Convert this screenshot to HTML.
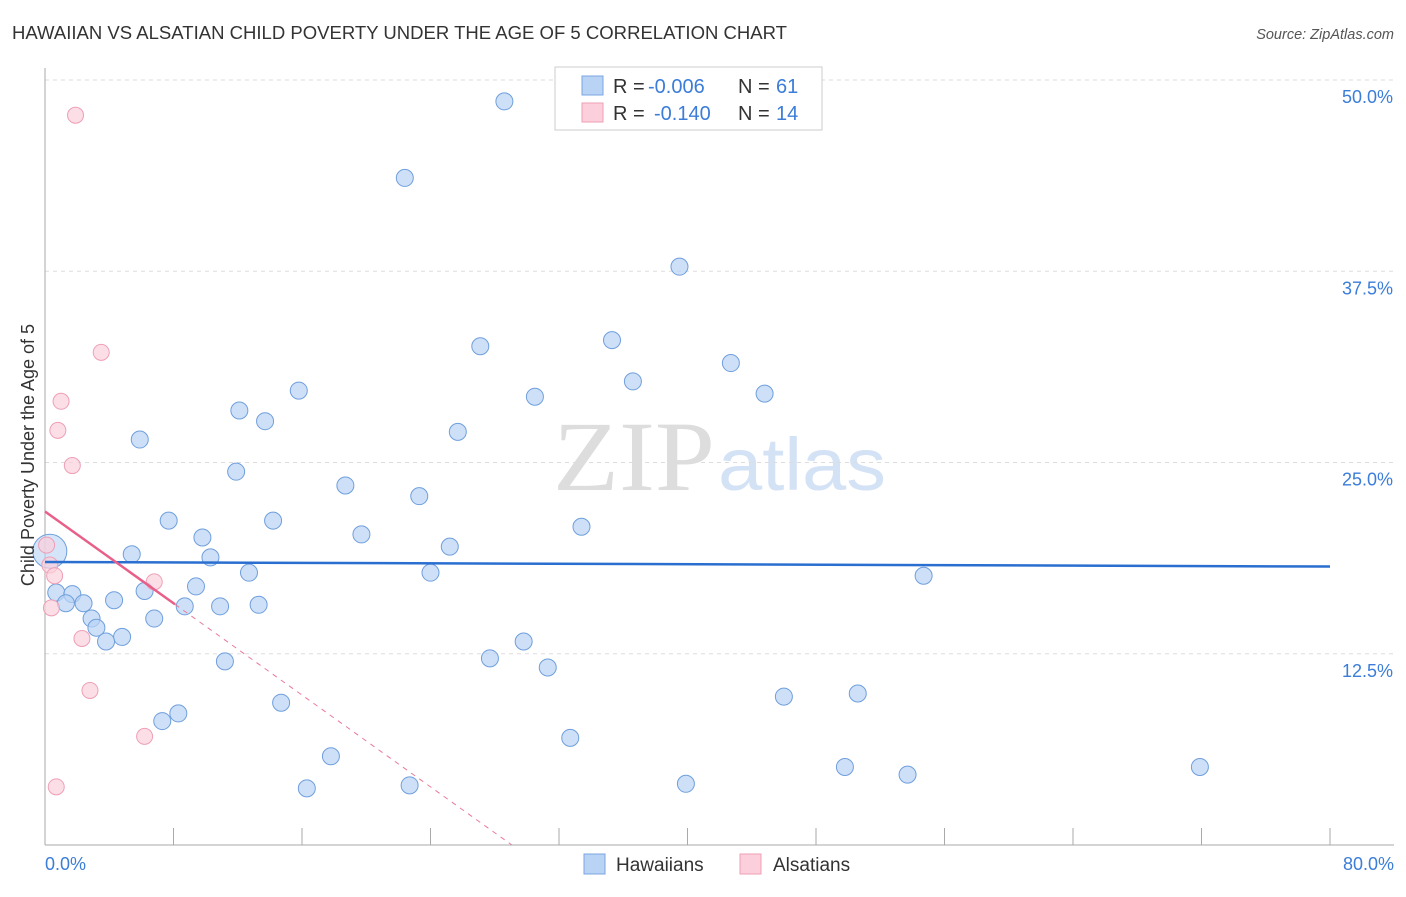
<!DOCTYPE html>
<html><head><meta charset="utf-8"><style>
body{margin:0;background:#fff;font-family:"Liberation Sans",sans-serif}
</style></head><body>
<svg width="1406" height="892" xmlns="http://www.w3.org/2000/svg" id="chart" font-family="Liberation Sans, sans-serif">
<text x="12" y="39" font-size="18" fill="#333" textLength="775" lengthAdjust="spacingAndGlyphs">HAWAIIAN VS ALSATIAN CHILD POVERTY UNDER THE AGE OF 5 CORRELATION CHART</text>
<text x="1394" y="39" font-size="14.5" fill="#555" text-anchor="end" font-style="italic">Source: ZipAtlas.com</text>
<text x="553" y="490" font-size="100" fill="#ddd" textLength="162" lengthAdjust="spacingAndGlyphs" font-family="Liberation Serif, serif">ZIP</text>
<text x="718" y="490" font-size="74" fill="#d4e2f5" textLength="168" lengthAdjust="spacingAndGlyphs">atlas</text>
<g id="grid"></g><g id="axes"></g><g id="marks"></g>
<text transform="translate(34,455) rotate(-90)" font-size="18" fill="#333" text-anchor="middle">Child Poverty Under the Age of 5</text>
<text x="45" y="870" font-size="18" fill="#3b7dd8">0.0%</text>
<text x="1394" y="870" font-size="18" fill="#3b7dd8" text-anchor="end">80.0%</text>
<g>
<rect x="555" y="67" width="267" height="63" fill="#fff" stroke="#ccc"/>
<rect x="582" y="76" width="21" height="19" fill="#b9d3f5" stroke="#7aa6e0"/>
<rect x="582" y="103" width="21" height="19" fill="#fbd0dc" stroke="#ee9fb6"/>
<text y="93" font-size="20" fill="#333"><tspan x="613">R =</tspan><tspan x="648" fill="#3b7dd8">-0.006</tspan><tspan x="738">N =</tspan><tspan x="776" fill="#3b7dd8">61</tspan></text>
<text y="120" font-size="20" fill="#333"><tspan x="613">R =</tspan><tspan x="654" fill="#3b7dd8">-0.140</tspan><tspan x="738">N =</tspan><tspan x="776" fill="#3b7dd8">14</tspan></text>
</g>
<g>
<rect x="584" y="854" width="21" height="20" fill="#b9d3f5" stroke="#7aa6e0"/>
<text x="616" y="871" font-size="19" fill="#333">Hawaiians</text>
<rect x="740" y="854" width="21" height="20" fill="#fbd0dc" stroke="#ee9fb6"/>
<text x="773" y="871" font-size="19" fill="#333">Alsatians</text>
</g>
</svg>
<script>
const yTicks=[12.5,25,37.5,50];
const yTickLabels=["12.5%","25.0%","37.5%","50.0%"];
const xTicks=[8,16,24,32,40,48,56,64,72,80];
const hawX=[28.6,22.4,39.5,27.1,35.3,42.7,36.6,44.8,15.8,30.5,12.1,13.7,25.7,5.9,11.9,18.7,23.3,7.7,14.2,33.4,19.7,9.8,25.2,5.4,10.3,12.7,24.0,54.7,9.4,6.2,0.7,1.7,4.3,1.3,2.4,8.7,10.9,13.3,2.9,6.8,3.2,4.8,3.8,29.8,27.7,11.2,31.3,14.7,46.0,50.6,8.3,7.3,32.7,17.8,49.8,71.9,53.7,16.3,22.7,39.9];
const hawY=[48.6,43.6,37.8,32.6,33.0,31.5,30.3,29.5,29.7,29.3,28.4,27.7,27.0,26.5,24.4,23.5,22.8,21.2,21.2,20.8,20.3,20.1,19.5,19.0,18.8,17.8,17.8,17.6,16.9,16.6,16.5,16.4,16.0,15.8,15.8,15.6,15.6,15.7,14.8,14.8,14.2,13.6,13.3,13.3,12.2,12.0,11.6,9.3,9.7,9.9,8.6,8.1,7.0,5.8,5.1,5.1,4.6,3.7,3.9,4.0];
const alsX=[1.9,3.5,1.0,0.8,1.7,0.1,0.3,0.6,6.8,0.4,2.3,2.8,6.2,0.7];
const alsY=[47.7,32.2,29.0,27.1,24.8,19.6,18.3,17.6,17.2,15.5,13.5,10.1,7.1,3.8];
const hawTrend=[18.5,18.2];
const alsTrend=[21.8,-0.75];
const X=v=>45+v*(1285/80), Y=v=>845-v*(765/50);
const NS="http://www.w3.org/2000/svg";
function mk(p,t,a){const e=document.createElementNS(NS,t);for(const k in a)e.setAttribute(k,a[k]);document.getElementById(p).appendChild(e);return e;}
yTicks.forEach((t,i)=>{
 const l=mk('grid','line',{x1:45,x2:1394,y1:Y(t),y2:Y(t),stroke:'#ddd','stroke-dasharray':'4,4'});
 
 
 const tx=mk('grid','text',{x:1393,y:Y(t)+23,'font-size':18,fill:'#3b7dd8','text-anchor':'end'});
 tx.textContent=yTickLabels[i];
 
 
});
let a=mk('axes','line',{x1:45,x2:45,y1:68,y2:845,stroke:'#aaa'});


a=mk('axes','line',{x1:45,x2:1394,y1:845,y2:845,stroke:'#aaa'});


xTicks.forEach(t=>{const l=mk('axes','line',{x1:X(t),x2:X(t),y1:828,y2:845,stroke:'#aaa'});
 
 });
hawX.forEach((x,i)=>{const c=mk('marks','circle',{cx:X(x),cy:Y(hawY[i]),r:8.5,fill:'#b9d3f5','fill-opacity':0.7,stroke:'#6f9fdc','stroke-width':1});
 
 });
let big=mk('marks','circle',{cx:X(0.3),cy:Y(19.2),r:17,fill:'#b9d3f5','fill-opacity':0.6,stroke:'#6f9fdc'});


alsX.forEach((x,i)=>{const c=mk('marks','circle',{cx:X(x),cy:Y(alsY[i]),r:8,fill:'#fbd0dc','fill-opacity':0.7,stroke:'#ee9fb6','stroke-width':1});
 
 });
let t1=mk('marks','line',{x1:X(0),y1:Y(hawTrend[0]),x2:X(80),y2:Y(hawTrend[1]),stroke:'#2a6fd0','stroke-width':2.5});


const ae=-alsTrend[0]/alsTrend[1];
let t2=mk('marks','line',{x1:X(8.1),y1:Y(alsTrend[0]+alsTrend[1]*8.1),x2:X(ae),y2:Y(0),stroke:'#e87a9a','stroke-width':1,'stroke-dasharray':'5,5'});


let t3=mk('marks','line',{x1:X(0),y1:Y(alsTrend[0]),x2:X(8.1),y2:Y(alsTrend[0]+alsTrend[1]*8.1),stroke:'#e8608a','stroke-width':2.5});


</script>
</body></html>
